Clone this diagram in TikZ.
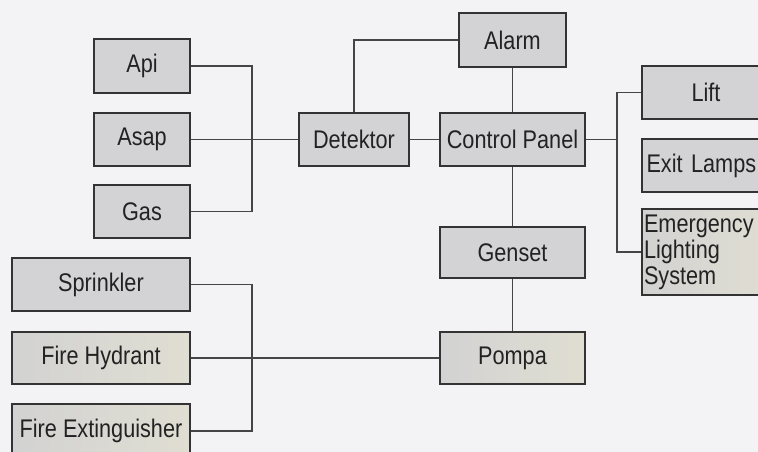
\documentclass[tikz,border=0pt]{standalone}
\usepackage{fontspec}
\setmainfont{Liberation Sans}[FakeStretch=0.85]
\begin{document}
\definecolor{bg}{HTML}{F3F3F5}
\definecolor{boxfill}{HTML}{D3D3D5}
\definecolor{boxbeigeL}{HTML}{D2D2D2}
\definecolor{boxbeigeR}{HTML}{E0DED2}
\definecolor{edge}{HTML}{333333}
\definecolor{wire}{HTML}{454545}
\definecolor{txt}{HTML}{222222}
\begin{tikzpicture}[x=1pt,y=-1pt,
  box/.style={draw=edge,line width=1.6pt,fill=boxfill,rectangle,inner sep=0pt,
    text=txt,font=\fontsize{25.5}{27}\selectfont},
  beige/.style={box,left color=boxbeigeL,right color=boxbeigeR},
  wirel/.style={draw=wire,line width=1.4pt}]
\useasboundingbox (0,0) rectangle (758,452);
\fill[bg] (0,0) rectangle (758,452);
\clip (0,0) rectangle (758,452);
% left sensors
\node[box,minimum width=96pt,minimum height=54pt] (api) at (142,66) {Api};
\node[box,minimum width=96pt,minimum height=53pt] (asap) at (142,139.5) {Asap};
\node[box,minimum width=96pt,minimum height=53pt] (gas) at (142,211.5) {Gas};
% center column
\node[box,minimum width=110pt,minimum height=53pt] (det) at (354,139.5) {Detektor};
\node[box,minimum width=107pt,minimum height=54pt] (alarm) at (512.5,40) {Alarm};
\node[box,minimum width=145pt,minimum height=53pt] (cp) at (512.5,139.5) {Control Panel};
\node[box,minimum width=145pt,minimum height=51pt] (gen) at (512.5,252.5) {Genset};
\node[beige,minimum width=145pt,minimum height=52pt] (pompa) at (512.5,358) {Pompa};
% bottom left
\node[box,minimum width=178pt,minimum height=53pt] (spr) at (101,284.5) {Sprinkler};
\node[beige,minimum width=178pt,minimum height=52pt] (hyd) at (101,358) {Fire Hydrant};
\node[beige,minimum width=178pt,minimum height=54pt] (ext) at (101,431) {Fire Extinguisher};
% right column
\node[box,minimum width=128pt,minimum height=53pt] (lift) at (706,92.5) {Lift};
\node[box,minimum width=128pt,minimum height=53pt,text width=119pt,align=left] (exit) at (706,165.5) {Exit Lamps};
\node[beige,minimum width=128pt,minimum height=86pt,text width=124pt,align=left,
  font=\fontsize{25.5}{26}\selectfont] (emg) at (706,252) {Emergency\\Lighting\\System};
% bus coordinates
\coordinate (busL) at (252,0);
\coordinate (busR) at (617,0);
% connectors
\draw[wirel] (api.east) -- (api.east -| busL) |- (gas.east);
\draw[wirel] (asap.east) -- (det.west);
\draw[wirel] (det.north) |- (alarm.west);
\draw[wirel] (alarm.south) -- (cp.north);
\draw[wirel] (det.east) -- (cp.west);
\draw[wirel] (cp.east) -- (cp.east -| busR);
\draw[wirel] (lift.west) -- (lift.west -| busR) |- (emg.west);
\draw[wirel] (cp.south) -- (gen.north);
\draw[wirel] (gen.south) -- (pompa.north);
\draw[wirel] (spr.east) -- (spr.east -| busL) |- (ext.east);
\draw[wirel] (hyd.east) -- (pompa.west);
\end{tikzpicture}
\end{document}
